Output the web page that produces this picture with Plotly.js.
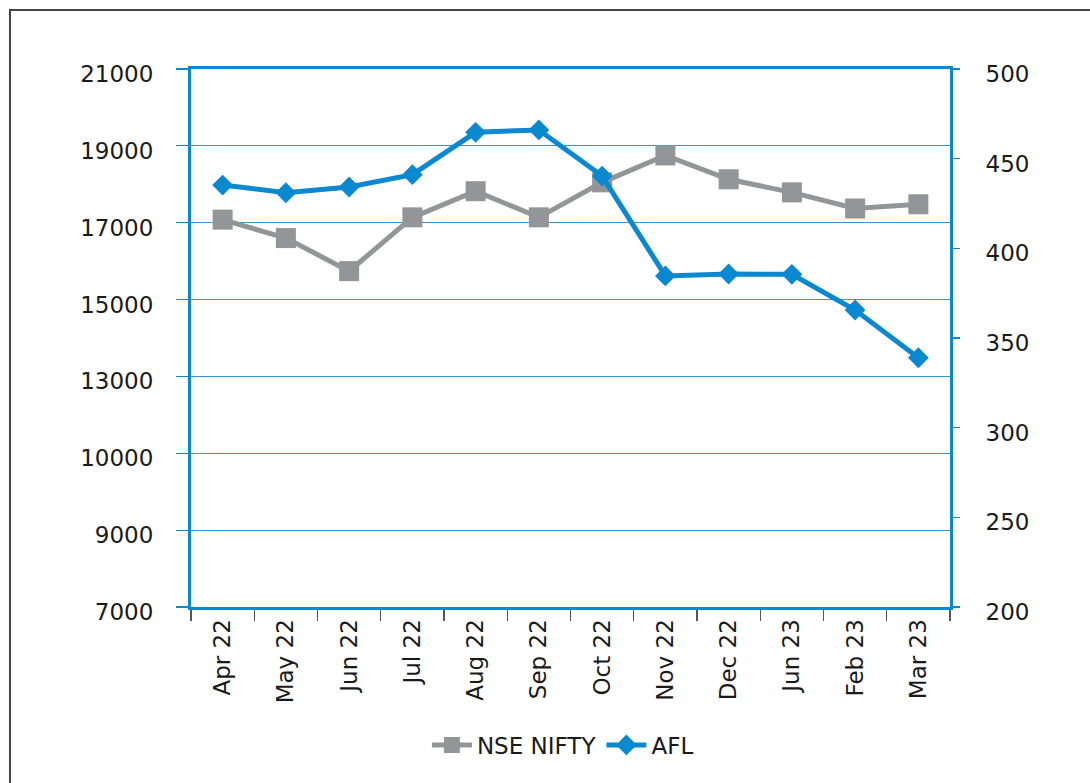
<!DOCTYPE html>
<html>
<head>
<meta charset="utf-8">
<script src="https://cdn.plot.ly/plotly-3.0.1.min.js"></script>
<style>
  html, body { margin: 0; padding: 0; background: #ffffff; }
  #chart { width: 1090px; height: 783px; }
</style>
</head>
<body>
<div id="chart"></div>
<script>
// ---- data ----
const months = ['Apr 22','May 22','Jun 22','Jul 22','Aug 22','Sep 22','Oct 22','Nov 22','Dec 22','Jun 23','Feb 23','Mar 23'];
const nseNifty = [17080, 16600, 15740, 17140, 17820, 17140, 18050, 18750, 18130, 17790, 17370, 17480];
const afl = [435.3, 431.0, 434.2, 441.1, 464.7, 466.0, 440.3, 384.6, 385.7, 385.5, 365.6, 339.0];
const leftTickVals = [7000, 9000, 11000, 13000, 15000, 17000, 19000, 21000];
const leftTickText = ['7000', '9000', '10000', '13000', '15000', '17000', '19000', '21000'];
const rightTickVals = [200, 250, 300, 350, 400, 450, 500];

// ---- styles ----
const BLUE = '#0a88d0';
const GRID = '#2e97d8';
const GRAY = '#939598';
const FONT = 'DejaVu Sans, sans-serif';
const TXT = '#1a1a1a';

const traces = [
  {
    x: months, y: nseNifty, name: 'NSE NIFTY', type: 'scatter', mode: 'lines+markers',
    yaxis: 'y',
    line: { color: GRAY, width: 5 },
    marker: { symbol: 'square', size: 20, color: GRAY }
  },
  {
    x: months, y: afl, name: 'AFL', type: 'scatter', mode: 'lines+markers',
    yaxis: 'y2',
    line: { color: BLUE, width: 5 },
    marker: { symbol: 'diamond', size: 16, color: BLUE }
  }
];

const layout = {
  width: 1090, height: 783,
  margin: { l: 191, r: 140, t: 69, b: 176 },
  paper_bgcolor: '#ffffff',
  plot_bgcolor: '#ffffff',
  font: { family: FONT, size: 23, color: TXT },
  showlegend: true,
  legend: {
    orientation: 'h', x: 0.49, xanchor: 'center', y: -0.2565, yanchor: 'middle',
    font: { family: FONT, size: 23, color: TXT }, traceorder: 'normal',
    itemwidth: 40
  },
  xaxis: {
    type: 'category',
    range: [-0.5, months.length - 0.5],
    tickangle: -90,
    ticks: 'outside', tickson: 'boundaries', ticklen: 11, tickwidth: 1.2, tickcolor: '#555555',
    showline: true, mirror: true, linecolor: BLUE, linewidth: 3,
    showgrid: false, zeroline: false,
    tickfont: { family: FONT, size: 23, color: TXT }
  },
  yaxis: {
    range: [7000, 21000],
    tickvals: leftTickVals, ticktext: leftTickText,
    ticks: 'outside', ticklen: 12, tickwidth: 1.2, tickcolor: BLUE,
    ticklabelstandoff: 18, ticklabelshift: 5,
    showline: true, mirror: true, linecolor: BLUE, linewidth: 3,
    showgrid: true, gridcolor: GRID, gridwidth: 1.2,
    zeroline: false,
    tickfont: { family: FONT, size: 23, color: TXT }
  },
  yaxis2: {
    range: [200, 500],
    tickvals: rightTickVals,
    overlaying: 'y', side: 'right',
    ticks: 'outside', ticklen: 9, tickwidth: 1.2, tickcolor: BLUE,
    ticklabelstandoff: 21, ticklabelshift: 5,
    showline: false, showgrid: false, zeroline: false,
    tickfont: { family: FONT, size: 23, color: TXT }
  },
  shapes: [
    {
      type: 'rect', xref: 'paper', yref: 'paper', layer: 'below',
      x0: (10 - 191) / 759, x1: (1100 - 191) / 759,
      y0: (607 - 800) / 538, y1: 1 + (69 - 10) / 538,
      line: { color: '#444444', width: 2 }, fillcolor: 'rgba(0,0,0,0)'
    }
  ]
};

Plotly.newPlot('chart', traces, layout, { displayModeBar: false, staticPlot: true });
</script>
</body>
</html>
